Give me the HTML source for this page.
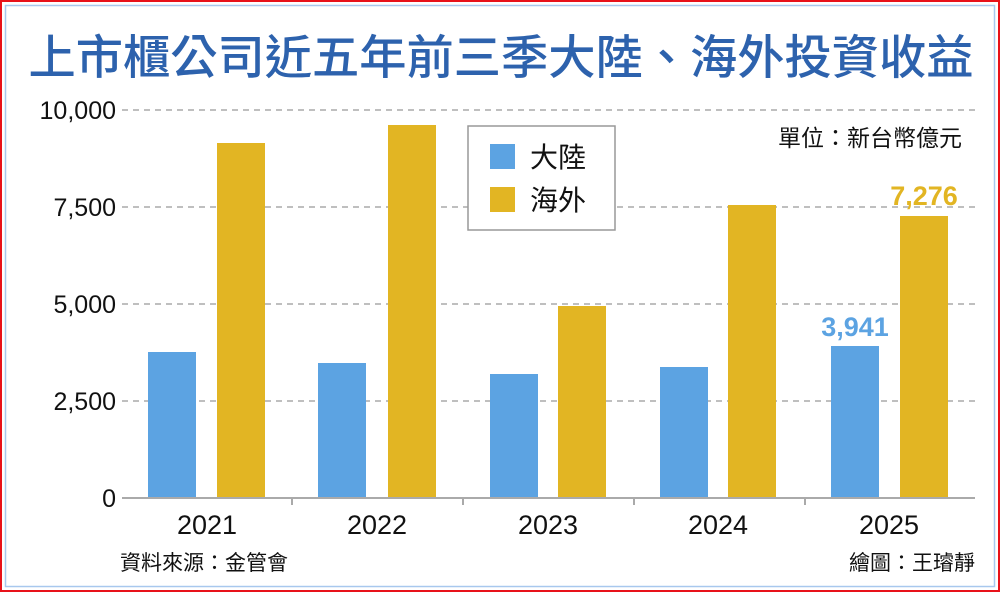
<!DOCTYPE html>
<html><head><meta charset="utf-8"><style>
body{margin:0;width:1000px;height:592px;overflow:hidden;background:#fff}
svg text{font-family:"Liberation Sans","Noto Sans CJK TC",sans-serif}
</style></head><body>
<svg width="1000" height="592" xmlns="http://www.w3.org/2000/svg">
<rect x="1" y="1" width="998" height="590" fill="#fff" stroke="#e8121a" stroke-width="2"/>
<rect x="5.5" y="5.5" width="989" height="581" fill="none" stroke="#a8c8ee" stroke-width="1.5"/>
<text x="501" y="74" font-size="47" fill="#2d62ad" text-anchor="middle" font-weight="500" textLength="945" lengthAdjust="spacingAndGlyphs">上市櫃公司近五年前三季大陸、海外投資收益</text>
<g stroke="#aaa" stroke-width="1.5" stroke-dasharray="6,5">
<line x1="122" y1="110" x2="975" y2="110"/>
<line x1="122" y1="207" x2="975" y2="207"/>
<line x1="122" y1="304" x2="975" y2="304"/>
<line x1="122" y1="401" x2="975" y2="401"/>
</g>
<g font-size="25" fill="#111" text-anchor="end">
<text x="116" y="119">10,000</text>
<text x="116" y="216">7,500</text>
<text x="116" y="313">5,000</text>
<text x="116" y="410">2,500</text>
<text x="116" y="507">0</text>
</g>
<g fill="#5ca3e2">
<rect x="148" y="352" width="48" height="146"/>
<rect x="318" y="363" width="48" height="135"/>
<rect x="490" y="374" width="48" height="124"/>
<rect x="660" y="367" width="48" height="131"/>
<rect x="831" y="346" width="48" height="152"/>
</g>
<g fill="#e2b523">
<rect x="217" y="143" width="48" height="355"/>
<rect x="388" y="125" width="48" height="373"/>
<rect x="558" y="306" width="48" height="192"/>
<rect x="728" y="205" width="48" height="293"/>
<rect x="900" y="216" width="48" height="282"/>
</g>
<line x1="122" y1="498" x2="975" y2="498" stroke="#aaa" stroke-width="2"/>
<g stroke="#aaa" stroke-width="2">
<line x1="292" y1="498" x2="292" y2="505"/><line x1="463" y1="498" x2="463" y2="505"/>
<line x1="634" y1="498" x2="634" y2="505"/><line x1="805" y1="498" x2="805" y2="505"/>
</g>
<g font-size="27" fill="#111" text-anchor="middle">
<text x="207" y="534">2021</text><text x="377" y="534">2022</text>
<text x="548" y="534">2023</text><text x="718" y="534">2024</text><text x="889" y="534">2025</text>
</g>
<text x="855" y="336" font-size="27" font-weight="bold" fill="#5ca3e2" text-anchor="middle">3,941</text>
<text x="924" y="205" font-size="27" font-weight="bold" fill="#e2b523" text-anchor="middle">7,276</text>
<rect x="468" y="126" width="147" height="104" fill="#fff" stroke="#999" stroke-width="1.5"/>
<rect x="490" y="144" width="25" height="25" fill="#5ca3e2"/>
<rect x="490" y="187" width="25" height="25" fill="#e2b523"/>
<text x="530" y="167" font-size="28" fill="#111">大陸</text>
<text x="530" y="210" font-size="28" fill="#111">海外</text>
<text x="962" y="146" font-size="23" fill="#111" text-anchor="end">單位：新台幣億元</text>
<text x="120" y="570" font-size="21" fill="#111">資料來源：金管會</text>
<text x="975" y="570" font-size="21" fill="#111" text-anchor="end">繪圖：王璿靜</text>
</svg>
</body></html>
